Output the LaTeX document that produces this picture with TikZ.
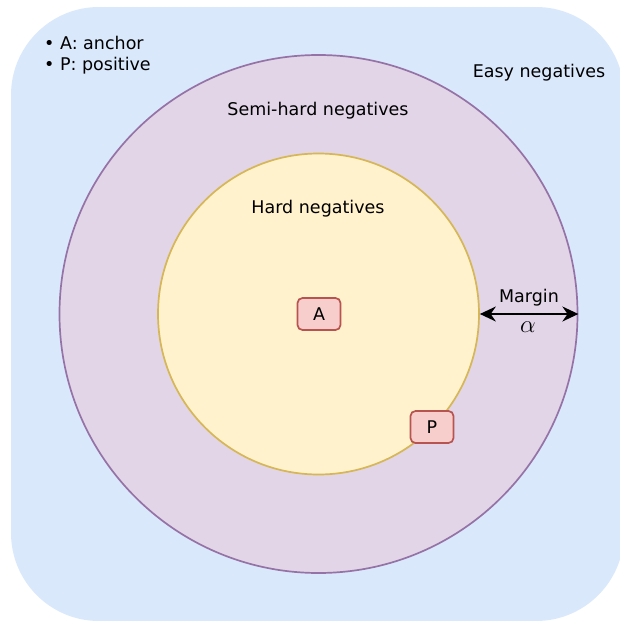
\documentclass[tikz,border=0pt]{standalone}
\usepackage{fontspec}
\setmainfont{DejaVu Sans}
\usetikzlibrary{arrows.meta}

\definecolor{easyfill}{HTML}{DAE8FC}
\definecolor{semifill}{HTML}{E1D5E7}
\definecolor{semiline}{HTML}{9673A6}
\definecolor{hardfill}{HTML}{FFF2CC}
\definecolor{hardline}{HTML}{D6B656}
\definecolor{samplefill}{HTML}{F8CECC}
\definecolor{sampleline}{HTML}{B85450}

\tikzset{
  zone/.style={circle,inner sep=0pt,line width=1.7pt},
  sample/.style={draw=sampleline,fill=samplefill,line width=1.7pt,rounded corners=5pt,
    minimum width=43pt,minimum height=32pt,inner sep=0pt,font=\fontsize{17.5}{20}\selectfont},
  lbl/.style={font=\fontsize{17.5}{20}\selectfont,inner sep=0pt}
}

\begin{document}
\begin{tikzpicture}[x=1pt,y=-1pt]
  \useasboundingbox (0,0) rectangle (619,621);

  % easy negatives: background
  \fill[easyfill,rounded corners=88pt] (11,7) rectangle (624,621);

  % semi-hard and hard zones
  \node[zone,draw=semiline,fill=semifill,minimum size=518pt] (semi) at (318.5,314) {};
  \node[zone,draw=hardline,fill=hardfill,minimum size=321pt] (hard) at (318.5,314) {};

  % anchor and positive
  \node[sample] (A) at (319,314) {A};
  \node[sample] (P) at (432,427) {P};

  % margin between the two circles
  \draw[{Stealth[length=16pt,width=15pt]}-{Stealth[length=16pt,width=15pt]},line width=1.7pt]
    (hard.east) -- (semi.east);
  \node[lbl] (margin) at (529,298) {Margin};
  \node[font=\fontsize{23}{25}\selectfont,inner sep=0pt] (alpha) at (528,327) {$\alpha$};

  % zone labels
  \node[lbl] (easylbl) at (539,73) {Easy negatives};
  \node[lbl] (semilbl) at (318,111) {Semi-hard negatives};
  \node[lbl] (hardlbl) at (318,209) {Hard negatives};

  % legend
  \node[lbl,anchor=west,align=left,font=\fontsize{17.5}{21}\selectfont] (legend) at (44,55)
    {\textbullet\ A: anchor\\ \textbullet\ P: positive};
\end{tikzpicture}
\end{document}
